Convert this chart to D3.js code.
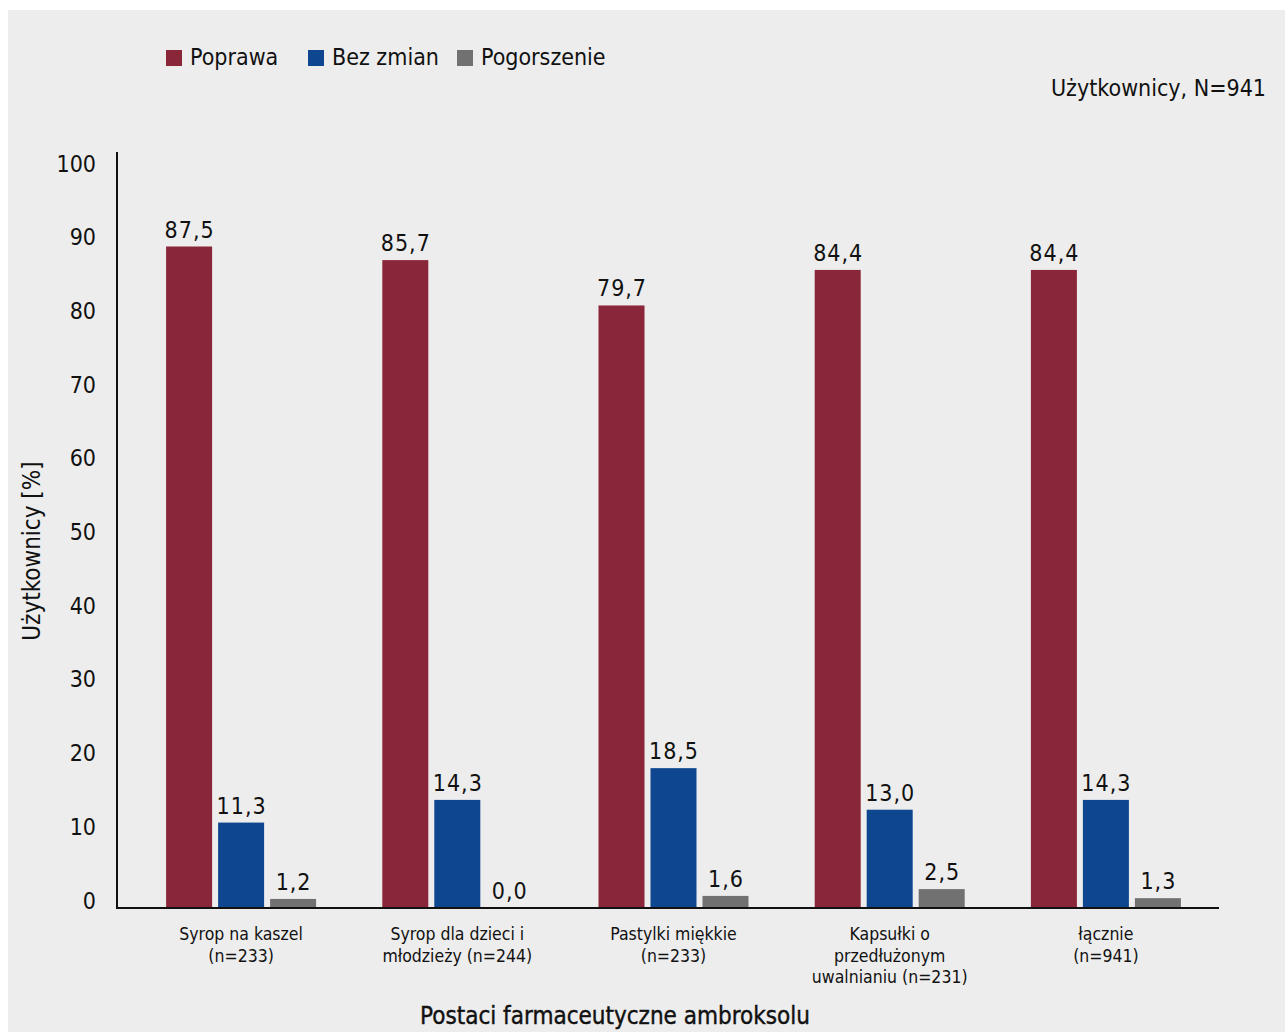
<!DOCTYPE html>
<html>
<head>
<meta charset="utf-8">
<script src="https://cdn.jsdelivr.net/npm/d3@7"></script>
<style>
  html, body { margin: 0; padding: 0; background: #fff; }
  svg { display: block; }
  text { font-family: "DejaVu Sans Condensed", "DejaVu Sans", sans-serif; fill: #111; }
</style>
</head>
<body>
<svg id="chart" width="1285" height="1032"></svg>
<script>
/* ── Data ───────────────────────────────────────────────────────── */
const categories = [
  ['Syrop na kaszel', '(n=233)'],
  ['Syrop dla dzieci i', 'młodzieży (n=244)'],
  ['Pastylki miękkie', '(n=233)'],
  ['Kapsułki o', 'przedłużonym', 'uwalnianiu (n=231)'],
  ['łącznie', '(n=941)']
];
const seriesNames = ['Poprawa', 'Bez zmian', 'Pogorszenie'];
const poprawa     = [87.5, 85.7, 79.7, 84.4, 84.4];
const bezZmian    = [11.3, 14.3, 18.5, 13.0, 14.3];
const pogorszenie = [1.2, 0.0, 1.6, 2.5, 1.3];
const yTicks      = [0, 10, 20, 30, 40, 50, 60, 70, 80, 90, 100];
const colors      = ['#8a2639', '#0e4790', '#717171'];

/* ── Layout ─────────────────────────────────────────────────────── */
const W = 1285, H = 1032;
const AX_L = 117, AX_R = 1219, AX_T = 152;
const FS = 23;

const svg = d3.select('#chart');
svg.append('rect').attr('x', 8).attr('y', 10).attr('width', W - 8).attr('height', H - 10).attr('fill', '#ededed');

const keys = categories.map((c, i) => i);
const series = [poprawa, bezZmian, pogorszenie];

const x0 = d3.scaleBand().domain(keys).range([133, 1214]).padding(0);
const x1 = d3.scaleBand().domain(seriesNames).range([-75, 75]).paddingInner(6 / 52).paddingOuter(0);
const y  = d3.scaleLinear().domain([0, 100]).range([908, AX_T]);
// tick labels in the source sit on a slightly tighter grid than the bars
const yLab = d3.scaleLinear().domain([0, 100]).range([900, 163]);

const cx = i => x0(i) + x0.bandwidth() / 2;
const fmt = v => v.toFixed(1).replace('.', ',');

/* ── Bars and value labels ──────────────────────────────────────── */
seriesNames.forEach((name, s) => {
  const g = svg.append('g');
  g.selectAll('rect')
    .data(series[s])
    .join('rect')
    .attr('x', (d, i) => cx(i) + x1(name))
    .attr('width', x1.bandwidth())
    .attr('y', d => y(d))
    .attr('height', d => y(0) - y(d))
    .attr('fill', colors[s]);
  g.selectAll('text')
    .data(series[s])
    .join('text')
    .attr('x', (d, i) => cx(i) + x1(name) + x1.bandwidth() / 2 + 0.5)
    .attr('y', d => y(d) - 9)
    .attr('text-anchor', 'middle')
    .attr('font-size', FS)
    .attr('letter-spacing', 1)
    .text(fmt);
});

/* ── Axes ───────────────────────────────────────────────────────── */
const yAxis = d3.axisLeft(yLab).tickValues(yTicks).tickSize(0).tickPadding(0);
const gy = svg.append('g').attr('transform', `translate(96,0)`).call(yAxis);
gy.select('.domain').remove();
gy.selectAll('text').attr('font-size', FS).attr('dy', '0.35em').attr('fill', '#111')
  .attr('font-family', '"DejaVu Sans Condensed", "DejaVu Sans", sans-serif');

svg.append('line').attr('x1', AX_L).attr('x2', AX_L).attr('y1', AX_T).attr('y2', 908)
  .attr('stroke', '#111').attr('stroke-width', 2);
svg.append('line').attr('x1', AX_L - 1).attr('x2', AX_R).attr('y1', 908).attr('y2', 908)
  .attr('stroke', '#111').attr('stroke-width', 2);

/* x category labels */
const xl = svg.append('g');
categories.forEach((lines, i) => {
  const t = xl.append('text').attr('text-anchor', 'middle').attr('font-size', 17.5);
  lines.forEach((ln, j) => t.append('tspan').attr('x', cx(i)).attr('y', 940 + j * 21.5).text(ln));
});

/* ── Titles and legend ──────────────────────────────────────────── */
svg.append('text').attr('x', 615).attr('y', 1024).attr('text-anchor', 'middle')
  .attr('font-size', 24).attr('stroke', '#111').attr('stroke-width', 0.4)
  .text('Postaci farmaceutyczne ambroksolu');

svg.append('text').attr('transform', 'translate(40,551) rotate(-90)').attr('text-anchor', 'middle')
  .attr('font-size', FS + 1).text('Użytkownicy [%]');

svg.append('text').attr('x', 1266).attr('y', 96).attr('text-anchor', 'end')
  .attr('font-size', FS).text('Użytkownicy, N=941');

const legX = [166, 308, 457];
const leg = svg.append('g');
seriesNames.forEach((name, s) => {
  leg.append('rect').attr('x', legX[s]).attr('y', 50).attr('width', 16).attr('height', 16).attr('fill', colors[s]);
  leg.append('text').attr('x', legX[s] + 24).attr('y', 65).attr('font-size', FS).text(name);
});
</script>
</body>
</html>
